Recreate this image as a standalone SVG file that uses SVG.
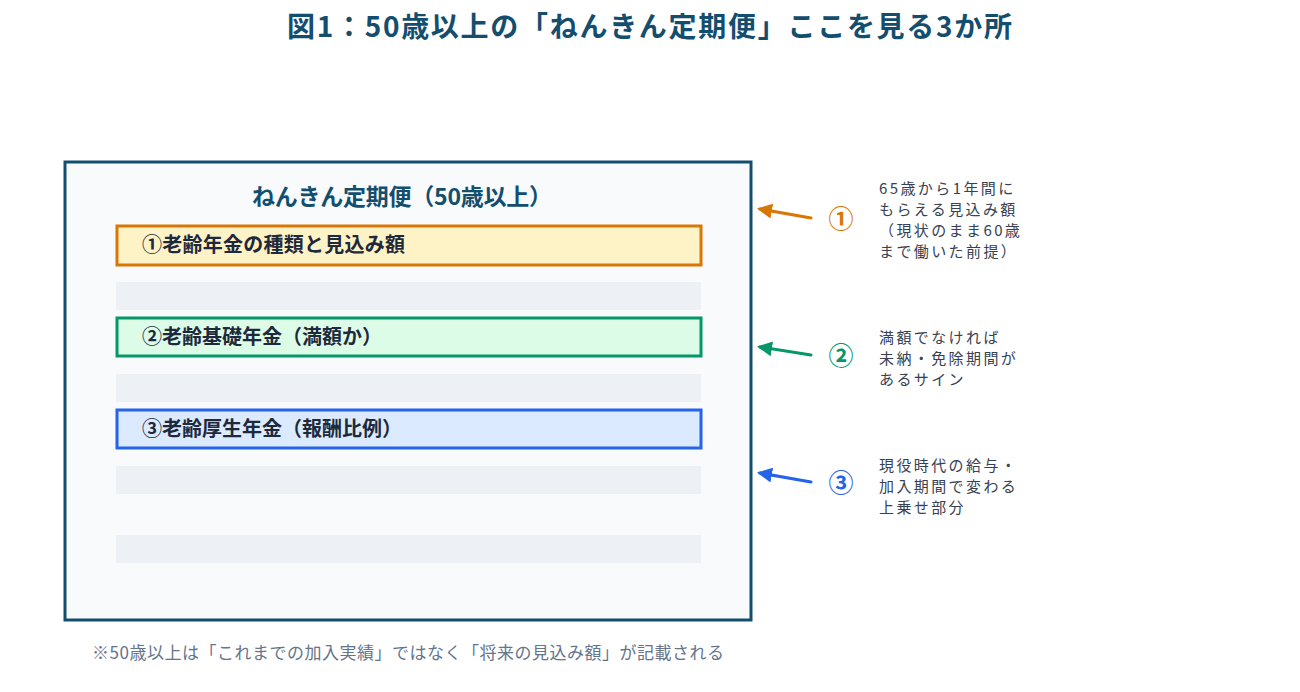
<svg xmlns="http://www.w3.org/2000/svg" width="1300" height="692" viewBox="0 0 1300 692">
<defs>
<style>
.jp{font-family:"Noto Sans CJK JP","Noto Sans",sans-serif}
.title{font-size:28px;font-weight:700;fill:#134e6f}
.sub{font-size:23px;font-weight:700;fill:#134e6f}
.row{font-size:20px;font-weight:700;fill:#1e293b}
.note{font-size:15px;fill:#374151;letter-spacing:2.4px}
.foot{font-size:17px;fill:#64748b}
.bar{fill:#edf1f5}
.num{font-size:25px;font-weight:700}
</style>
<marker id="mo" viewBox="0 0 10 10" refX="8" refY="5" markerWidth="5" markerHeight="5" orient="auto"><path d="M0,0 L10,5 L0,10 z" fill="#d97706"/></marker>
<marker id="mg" viewBox="0 0 10 10" refX="8" refY="5" markerWidth="5" markerHeight="5" orient="auto"><path d="M0,0 L10,5 L0,10 z" fill="#059669"/></marker>
<marker id="mb" viewBox="0 0 10 10" refX="8" refY="5" markerWidth="5" markerHeight="5" orient="auto"><path d="M0,0 L10,5 L0,10 z" fill="#2563eb"/></marker>
</defs>
<rect width="1300" height="692" fill="#ffffff"/>
<text class="jp title" x="287" y="37" textLength="725" lengthAdjust="spacing">図1：50歳以上の「ねんきん定期便」ここを見る3か所</text>
<g id="card">
<rect x="65" y="162" width="686" height="458" fill="#f8fafc" stroke="#134e6f" stroke-width="3"/>
<text class="jp sub" x="252" y="205" textLength="300" lengthAdjust="spacing">ねんきん定期便（50歳以上）</text>
</g>
<g id="row1">
<rect x="117" y="226" width="584" height="39" fill="#fef3c7" stroke="#d97706" stroke-width="3"/>
<text class="jp row" x="142" y="252" textLength="263" lengthAdjust="spacing">①老齢年金の種類と見込み額</text>
</g>
<rect class="bar" x="116" y="282" width="585" height="28"/>
<g id="row2">
<rect x="117" y="318" width="584" height="38" fill="#dcfce7" stroke="#059669" stroke-width="3"/>
<text class="jp row" x="142" y="344">②老齢基礎年金（満額か）</text>
</g>
<rect class="bar" x="116" y="374" width="585" height="28"/>
<g id="row3">
<rect x="117" y="410" width="584" height="38" fill="#dbeafe" stroke="#2563eb" stroke-width="3"/>
<text class="jp row" x="142" y="436">③老齢厚生年金（報酬比例）</text>
</g>
<rect class="bar" x="116" y="466" width="585" height="28"/>
<rect class="bar" x="116" y="535" width="585" height="28"/>
<g id="connectors" fill="none" stroke-width="3" stroke-linecap="round">
<line x1="811" y1="218" x2="760" y2="209" stroke="#d97706" marker-end="url(#mo)"/>
<line x1="811" y1="355" x2="760" y2="347" stroke="#059669" marker-end="url(#mg)"/>
<line x1="811" y1="482" x2="760" y2="473" stroke="#2563eb" marker-end="url(#mb)"/>
</g>
<g id="callout1">
<text class="jp num" x="841" y="228" text-anchor="middle" fill="#d97706">①</text>
<text class="jp note" x="879" y="194">65歳から1年間に</text>
<text class="jp note" x="879" y="215">もらえる見込み額</text>
<text class="jp note" x="879" y="236">（現状のまま60歳</text>
<text class="jp note" x="879" y="257">まで働いた前提）</text>
</g>
<g id="callout2">
<text class="jp num" x="841" y="365" text-anchor="middle" fill="#059669">②</text>
<text class="jp note" x="879" y="343">満額でなければ</text>
<text class="jp note" x="879" y="364">未納・免除期間が</text>
<text class="jp note" x="879" y="385">あるサイン</text>
</g>
<g id="callout3">
<text class="jp num" x="841" y="492" text-anchor="middle" fill="#2563eb">③</text>
<text class="jp note" x="879" y="471">現役時代の給与・</text>
<text class="jp note" x="879" y="492">加入期間で変わる</text>
<text class="jp note" x="879" y="513">上乗せ部分</text>
</g>
<text class="jp foot" x="92" y="659" textLength="632" lengthAdjust="spacing">※50歳以上は「これまでの加入実績」ではなく「将来の見込み額」が記載される</text>
</svg>
